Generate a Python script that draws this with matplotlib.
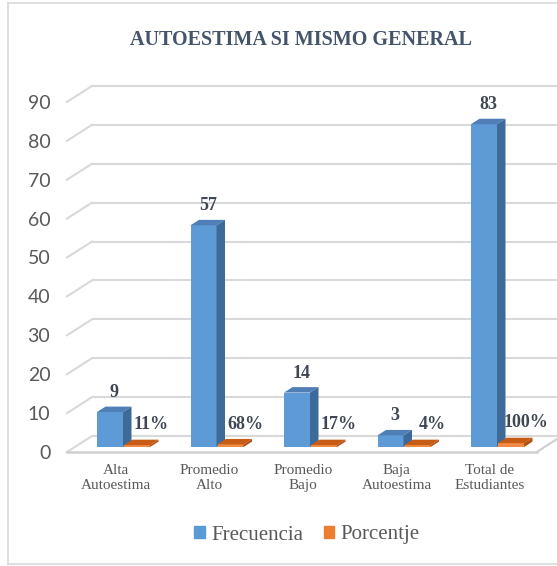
import matplotlib
matplotlib.use('Agg')
import matplotlib.pyplot as plt
from matplotlib.patches import Patch
from matplotlib.lines import Line2D

categorias = ['Alta\nAutoestima', 'Promedio\nAlto', 'Promedio\nBajo', 'Baja\nAutoestima', 'Total de\nEstudiantes']
frecuencia = [9, 57, 14, 3, 83]
porcentaje = [0.11, 0.68, 0.17, 0.04, 1.00]
etiquetas_pct = ['11%', '68%', '17%', '4%', '100%']
yticks = list(range(0, 100, 10))

W, H = 557, 566
PXU, X0 = 93.5, 116      # px per category, pixel of first category
PYU, Y0 = 3.89, 452      # px per unit, pixel of front floor

# 3d look: full wall depth and bar depth in data units
wall_dx, wall_dy = 25 / PXU, 16 / PYU
zf, zb = 0.31, 0.65
bw = 26 / PXU
blue_off = -0.286
orange_off = blue_off + bw + 1 / PXU

fig = plt.figure(figsize=(W / 100, H / 100), dpi=100)
ax_l, ax_r, ax_b, ax_t = 60, 557, 456, 70
ax = fig.add_axes([ax_l / W, (H - ax_b) / H, (ax_r - ax_l) / W, (ax_b - ax_t) / H])
ax.set_xlim((ax_l - X0) / PXU, (ax_r - X0) / PXU)
ax.set_ylim((Y0 - ax_b) / PYU, (Y0 - ax_t) / PYU)
for s in ax.spines.values():
    s.set_visible(False)

grid_c = '#d9d9d9'
x_left, x_right = -0.524, 4.5
# back wall gridlines + left wall diagonals
for v in yticks:
    ax.plot([x_left + wall_dx, x_right + wall_dx + 0.3], [v + wall_dy, v + wall_dy],
            color=grid_c, lw=1.5, zorder=1, solid_capstyle='butt')
    ax.plot([x_left, x_left + wall_dx], [v, v + wall_dy], color=grid_c, lw=1.5, zorder=1)
# floor front edge
ax.plot([x_left, x_right], [0, 0], color='#d0d0d0', lw=1.8, zorder=1)
ax.plot([x_right, x_right + wall_dx], [0, wall_dy], color='#d0d0d0', lw=1.5, zorder=1)


def barra_3d(x, v, off, c_front, c_top, c_side, min_h=0):
    left = x + off + zf * wall_dx
    base = zf * wall_dy
    h = max(v, min_h)
    ax.bar(left, h, width=bw, bottom=base, align='edge', color=c_front, lw=0, zorder=3)
    ddx, ddy = (zb - zf) * wall_dx, (zb - zf) * wall_dy
    top = base + h
    ax.fill([left, left + bw, left + bw + ddx, left + ddx],
            [top, top, top + ddy, top + ddy], color=c_top, lw=0, zorder=3)
    ax.fill([left + bw, left + bw + ddx, left + bw + ddx, left + bw],
            [base, base + ddy, top + ddy, top], color=c_side, lw=0, zorder=3)
    return left + (bw + ddx) / 2, top + ddy


lab_c = '#3e4753'
for i in range(len(categorias)):
    cx, cy = barra_3d(i, frecuencia[i], blue_off, '#5e9ad6', '#4f7fb6', '#3d6a99')
    ax.text(cx, cy + 3.6, str(frecuencia[i]), ha='center', va='center', family='Liberation Serif',
            fontweight='bold', fontsize=13, color=lab_c, zorder=5)
    ox, oy = barra_3d(i, porcentaje[i], orange_off, '#f08a45', '#c85c14', '#b3500f', min_h=0.5)
    ax.text(ox + 0.11, oy + 3.8, etiquetas_pct[i], ha='center', va='center', family='Liberation Serif',
            fontweight='bold', fontsize=13, color=lab_c, zorder=5)

ax.set_yticks(yticks)
ax.set_yticklabels([str(t) for t in yticks], family='Lato', fontsize=14, color='#595959')
ax.set_xticks(range(len(categorias)))
ax.set_xticklabels(categorias, family='Liberation Serif', fontsize=11, color='#595959')
ax.tick_params(axis='y', length=0, pad=7)
ax.tick_params(axis='x', length=0, pad=6)

fig.text(301 / W, 1 - 40 / H, 'AUTOESTIMA SI MISMO GENERAL', ha='center', va='center',
         family='Liberation Serif', fontweight='bold', fontsize=14.5, color='#44546a')

handles = [Patch(color='#5b9bd5', label='Frecuencia'), Patch(color='#ed7d31', label='Porcentje')]
fig.legend(handles=handles, loc='center', bbox_to_anchor=(307 / W, 1 - 535 / H), ncol=2,
           frameon=False, prop={'family': 'Liberation Serif', 'size': 15}, labelcolor='#595959',
           handlelength=0.5, handleheight=0.5, handletextpad=0.3, columnspacing=1.0)

# chart border
bc = '#d9d9d9'
fig.add_artist(Line2D([8 / W, 8 / W], [1 - 3 / H, 1 - 564 / H], color=bc, lw=1.2))
fig.add_artist(Line2D([8 / W, 1], [1 - 3 / H, 1 - 3 / H], color=bc, lw=1.2))
fig.add_artist(Line2D([8 / W, 1], [1 - 564 / H, 1 - 564 / H], color=bc, lw=1.2))

fig.savefig('out.png', dpi=100)
